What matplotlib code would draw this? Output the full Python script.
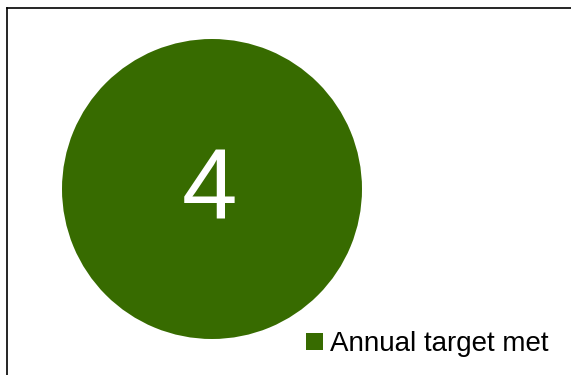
import matplotlib.pyplot as plt
from matplotlib.lines import Line2D

plt.rcParams['font.family'] = ['Liberation Sans', 'DejaVu Sans']

labels = ['Annual target met']
values = [4]
colors = ['#376b00']

W, H = 571, 375
fig = plt.figure(figsize=(W / 100, H / 100), dpi=100)

# pie area in pixel coords (left, top, width, height)
ax = fig.add_axes([62 / W, 1 - 340 / H, 300 / W, 302 / H])
wedges, _ = ax.pie(values, colors=colors, startangle=90, radius=1,
                   wedgeprops={'linewidth': 0})
ax.set_xlim(-1, 1)
ax.set_ylim(-1, 1)
ax.set_aspect('equal')
ax.text(-0.02, -0.03, str(values[0]), ha='center', va='center', color='white',
        fontsize=72)

fig.legend(wedges, labels, loc='lower right', bbox_to_anchor=(562 / W, 1 - 371 / H),
           frameon=False, fontsize=20, handlelength=0.6, handleheight=0.6,
           handletextpad=0.25, borderpad=0)

# cropped frame: top and left edges only
fig.add_artist(Line2D([7 / W, 1], [1 - 8 / H, 1 - 8 / H], color='black', lw=1.2))
fig.add_artist(Line2D([7 / W, 7 / W], [0, 1 - 8 / H], color='black', lw=1.2))

fig.savefig('out.png', dpi=100)
